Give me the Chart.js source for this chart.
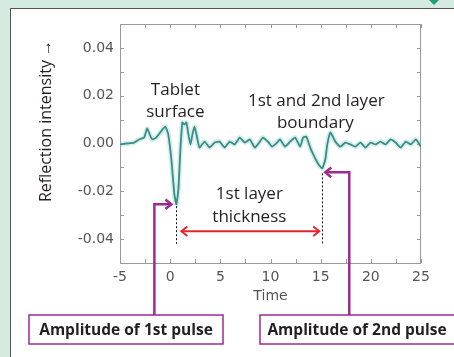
<!DOCTYPE html>
<html>
<head>
<meta charset="utf-8">
<script src="https://cdn.jsdelivr.net/npm/chart.js@4"></script>
<style>
  html, body { margin: 0; padding: 0; }
  body { width: 454px; height: 357px; overflow: hidden; background: #d5ebe2; position: relative; }
  .panel { position: absolute; left: 10px; top: 8px; width: 470px; height: 380px; background: #fff;
           border-left: 1.5px solid #555; border-top: 1.5px solid #555; }
  .diamond { position: absolute; left: 420px; top: -23px; width: 28px; height: 28px; background: #1f9f79;
             clip-path: polygon(50% 0, 100% 50%, 50% 100%, 0 50%); }
  #chart { position: absolute; left: 0; top: 0; }
</style>
</head>
<body>
<div class="panel"></div>
<div class="diamond"></div>
<canvas id="chart" width="454" height="357"></canvas>
<script>
// reflection trace
const timeValues = [-5.0, -4.3, -3.6, -3.1, -2.59, -2.29, -1.99, -1.79, -1.39, -0.99, -0.49, -0.19,
  0.12, 0.42, 0.62, 0.82, 1.02, 1.22, 1.42, 1.62, 1.82, 2.02, 2.22, 2.42, 2.62, 2.92,
  3.43, 3.93, 4.43, 4.93, 5.43, 5.93, 6.43, 6.94, 7.44, 7.94, 8.44, 8.94, 9.24, 9.74,
  10.15, 10.65, 10.95, 11.45, 11.95, 12.45, 12.95, 13.25, 13.56, 13.96, 14.26, 14.56, 14.86,
  15.16, 15.46, 15.66, 15.96, 16.26, 16.46, 16.97, 17.47, 17.97, 18.47, 18.97, 19.47, 19.97,
  20.47, 20.97, 21.47, 21.97, 22.47, 22.98, 23.48, 23.98, 24.48, 24.99];
const intensityValues = [-0.0004, 0.0, 0.0004, 0.0017, 0.0025, 0.0063, 0.0033, 0.0017, 0.0025, 0.0046, 0.0071, 0.0038,
  -0.0067, -0.0213, -0.0254, -0.0192, -0.0025, 0.0088, 0.0079, 0.0088, 0.0038, -0.0004, 0.0038, 0.0071, 0.0038, -0.0017,
  0.0008, -0.0017, 0.0004, 0.0008, -0.0017, 0.0008, -0.0004, 0.0025, 0.0004, 0.0017, -0.0017, 0.0008, 0.0025, 0.0008,
  -0.0013, 0.0004, 0.0017, -0.0013, 0.0008, 0.0025, -0.0013, 0.0025, 0.0029, -0.0017, -0.0046, -0.0071, -0.0092,
  -0.0104, -0.0067, -0.0004, 0.0046, 0.0025, 0.0008, -0.0013, 0.0004, -0.0004, -0.0013, 0.0004, -0.0017, 0.0004,
  -0.0004, 0.0008, -0.0004, 0.0017, 0.0004, -0.0017, 0.0008, -0.0004, 0.0017, -0.0013];

const xTicks = [-5, 0, 5, 10, 15, 20, 25];
const yTicks = [-0.04, -0.02, 0.00, 0.02, 0.04];
const xTickMarks = [-5, -2.5, 0, 2.5, 5, 7.5, 10, 12.5, 15, 17.5, 20, 22.5, 25];
const yTickMarks = [-0.05, -0.04, -0.03, -0.02, -0.01, 0, 0.01, 0.02, 0.03, 0.04, 0.05];

const yTitle = 'Reflection intensity \u2192';
const surfaceLabel = ['Tablet', 'surface'];
const boundaryLabel = ['1st and 2nd layer', 'boundary'];
const thicknessLabel = ['1st layer', 'thickness'];
const pulseBoxes = ['Amplitude of 1st pulse', 'Amplitude of 2nd pulse'];

const points = timeValues.map((t, i) => ({ x: t, y: intensityValues[i] }));

// pulse minima straight from the data
function minIndex(from) {
  let best = -1;
  intensityValues.forEach((v, i) => {
    if (timeValues[i] >= from && (best < 0 || v < intensityValues[best])) best = i;
  });
  return best;
}
const firstIdx = minIndex(-5);
const secondIdx = minIndex(10);

const PURPLE = '#9e2a93';
const RED = '#e3262c';
const TXT = '#231f20';
const ANNO_FONT = '"Open Sans", "Noto Sans", sans-serif';

function chevron(ctx, x, y, dir, size) {
  // open arrow head, dir = +1 points right, -1 points left
  ctx.beginPath();
  ctx.moveTo(x - dir * size, y - size * 0.8);
  ctx.lineTo(x, y);
  ctx.lineTo(x - dir * size, y + size * 0.8);
  ctx.stroke();
}

const framePlugin = {
  id: 'frame',
  beforeDatasetsDraw(chart) {
    const { ctx, chartArea: a, scales: { x, y } } = chart;
    ctx.save();
    ctx.strokeStyle = '#9a9a9a';
    ctx.lineWidth = 1;
    ctx.strokeRect(a.left + 0.5, a.top + 0.5, a.right - a.left - 1, a.bottom - a.top);
    ctx.beginPath();
    xTickMarks.forEach(v => {
      const px = Math.round(x.getPixelForValue(v)) + 0.5;
      ctx.moveTo(px, a.bottom); ctx.lineTo(px, a.bottom - 4);
      ctx.moveTo(px, a.top); ctx.lineTo(px, a.top + 4);
    });
    yTickMarks.forEach(v => {
      const py = Math.round(y.getPixelForValue(v)) + 0.5;
      ctx.moveTo(a.left, py); ctx.lineTo(a.left + 4, py);
      ctx.moveTo(a.right, py); ctx.lineTo(a.right - 4, py);
    });
    ctx.stroke();
    ctx.restore();
  },
  afterDraw(chart) {
    const { ctx, scales: { x, y } } = chart;
    const p1x = x.getPixelForValue(timeValues[firstIdx]);
    const p1y = y.getPixelForValue(intensityValues[firstIdx]);
    const p2x = x.getPixelForValue(timeValues[secondIdx]);
    const p2y = y.getPixelForValue(intensityValues[secondIdx]);
    const dotBottom = y.getPixelForValue(-0.042);
    const arrowY = y.getPixelForValue(-0.0367);
    ctx.save();

    // y axis title
    ctx.save();
    ctx.translate(46, 121);
    ctx.rotate(-Math.PI / 2);
    ctx.font = '16px ' + ANNO_FONT;
    ctx.fillStyle = TXT;
    ctx.textAlign = 'center';
    ctx.textBaseline = 'middle';
    ctx.fillText(yTitle, 0, 0);
    ctx.restore();

    // dotted drop lines
    ctx.strokeStyle = '#111';
    ctx.lineWidth = 1;
    ctx.setLineDash([2, 2]);
    ctx.beginPath();
    ctx.moveTo(Math.round(p1x) + 0.5, p1y + 2); ctx.lineTo(Math.round(p1x) + 0.5, dotBottom);
    ctx.moveTo(Math.round(p2x) + 0.5, p2y + 5); ctx.lineTo(Math.round(p2x) + 0.5, dotBottom);
    ctx.stroke();
    ctx.setLineDash([]);

    // red thickness arrow
    ctx.strokeStyle = RED;
    ctx.lineWidth = 2;
    ctx.beginPath();
    ctx.moveTo(p1x + 5, arrowY); ctx.lineTo(p2x - 3, arrowY);
    ctx.stroke();
    chevron(ctx, p1x + 5, arrowY, -1, 6);
    chevron(ctx, p2x - 3, arrowY, 1, 6);

    // text labels
    ctx.fillStyle = TXT;
    ctx.font = '17px ' + ANNO_FONT;
    ctx.textAlign = 'center';
    ctx.textBaseline = 'middle';
    ctx.fillText(surfaceLabel[0], p1x - 1, 90);
    ctx.fillText(surfaceLabel[1], p1x - 1, 112);
    ctx.fillText(boundaryLabel[0], p2x - 6, 101);
    ctx.fillText(boundaryLabel[1], p2x - 7, 123);
    ctx.fillText(thicknessLabel[0], (p1x + p2x) / 2, 194);
    ctx.fillText(thicknessLabel[1], (p1x + p2x) / 2, 217);

    // purple callouts
    const boxTop = 315, boxH = 29;
    ctx.strokeStyle = PURPLE;
    ctx.lineWidth = 2.5;
    const e1 = p1x - 22;
    ctx.beginPath();
    ctx.moveTo(e1, boxTop); ctx.lineTo(e1, p1y); ctx.lineTo(p1x - 5, p1y);
    ctx.stroke();
    chevron(ctx, p1x - 5, p1y, 1, 6);
    const e2 = p2x + 27;
    const c2y = p2y + 4;
    ctx.beginPath();
    ctx.moveTo(e2, boxTop); ctx.lineTo(e2, c2y); ctx.lineTo(p2x + 3, c2y);
    ctx.stroke();
    chevron(ctx, p2x + 3, c2y, -1, 6);

    ctx.lineWidth = 1.5;
    ctx.fillStyle = '#fff';
    const boxes = [[29, 223], [260, 470]];
    boxes.forEach(([l, r]) => {
      ctx.fillRect(l, boxTop, r - l, boxH);
      ctx.strokeRect(l, boxTop, r - l, boxH);
    });
    ctx.fillStyle = TXT;
    ctx.font = 'bold 15.5px ' + ANNO_FONT;
    ctx.fillText(pulseBoxes[0], 126, boxTop + boxH / 2 + 1);
    ctx.fillText(pulseBoxes[1], 357, boxTop + boxH / 2 + 1);
    ctx.restore();
  }
};

const tickFont = { family: '"DejaVu Sans", sans-serif', size: 14 };

new Chart(document.getElementById('chart'), {
  type: 'line',
  data: {
    datasets: [
      { data: points, borderColor: '#3b8c85', borderWidth: 1.8, pointRadius: 0, tension: 0.15 },
      { data: points, borderColor: 'rgba(130,205,205,0.35)', borderWidth: 5, pointRadius: 0, tension: 0.15 }
    ]
  },
  options: {
    responsive: false,
    animation: false,
    layout: { padding: { left: 0, right: 33, top: 24, bottom: 0 } },
    plugins: { legend: { display: false }, tooltip: { enabled: false } },
    scales: {
      x: {
        type: 'linear', min: -5, max: 25,
        afterBuildTicks: s => { s.ticks = xTicks.map(v => ({ value: v })); },
        afterFit: s => { s.height = 94; },
        grid: { display: false, drawTicks: false },
        border: { display: false },
        ticks: { font: tickFont, color: '#555', padding: 6, maxRotation: 0, autoSkip: false },
        title: { display: true, text: 'Time', font: tickFont, color: '#555', padding: { top: 0, bottom: 52 } }
      },
      y: {
        type: 'linear', min: -0.05, max: 0.05,
        afterBuildTicks: s => { s.ticks = yTicks.map(v => ({ value: v })); },
        afterFit: s => { s.width = 120; },
        grid: { display: false, drawTicks: false },
        border: { display: false },
        ticks: { font: tickFont, color: '#555', padding: 6, callback: v => v.toFixed(2) }
      }
    }
  },
  plugins: [framePlugin]
});
</script>
</body>
</html>
